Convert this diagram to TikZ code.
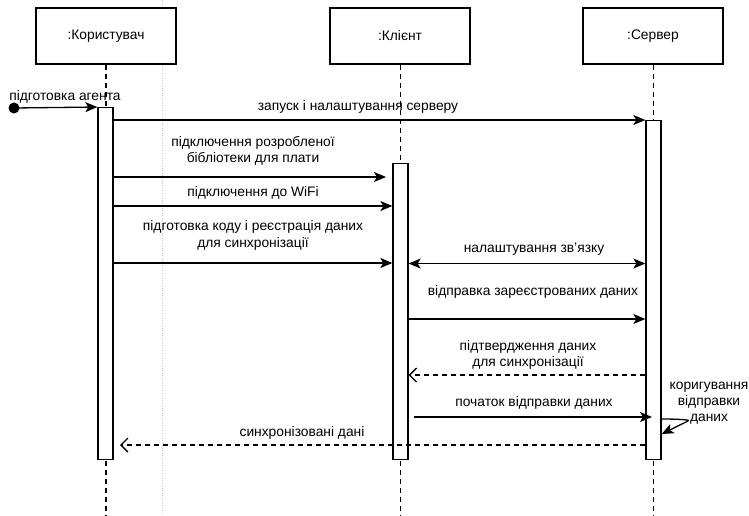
\documentclass[tikz,border=0pt]{standalone}
\usepackage{fontspec}
\setmainfont{Liberation Sans}
\usetikzlibrary{arrows.meta}
\begin{document}
\begin{tikzpicture}[x=1pt,y=-1pt,
  every node/.style={font=\fontsize{13.8}{16.3}\selectfont},
  objbox/.style={draw,line width=1.3pt,minimum width=140pt,minimum height=56pt,inner sep=0pt,fill=white},
  actbox/.style={draw,line width=1.3pt,minimum width=15pt,inner sep=0pt,anchor=north,fill=white},
  lifeline/.style={line width=1.3pt,dash pattern=on 5pt off 4pt},
  msg/.style={line width=1.3pt,-{Stealth[length=12pt,width=10pt,inset=3pt]}},
  bimsg/.style={line width=1.3pt,{Stealth[length=12pt,width=10pt,inset=3pt]}-{Stealth[length=12pt,width=10pt,inset=3pt]}},
  retmsg/.style={line width=1.3pt,dash pattern=on 5pt off 4pt,-{Straight Barb[length=7pt,width=14pt,line width=1.3pt]}},
  lbl/.style={align=center,inner sep=0pt}
]
\useasboundingbox (0,0) rectangle (749,515);
% page guide
\draw[gray!45,line width=0.8pt,dash pattern=on 1pt off 1.5pt] (162,0) -- (162,515);
% objects
\node[objbox] (user) at (106,36) {:Користувач};
\node[objbox] (client) at (400,36) {:Клієнт};
\node[objbox] (server) at (653,36) {:Сервер};
% lifelines
\coordinate (uend) at (106,515);
\coordinate (cend) at (400.5,515);
\coordinate (send) at (653.5,515);
\draw[lifeline] (user.south) -- (uend);
\draw[lifeline] (client.south -| cend) -- (cend);
\draw[lifeline] (server.south -| send) -- (send);
% activations
\node[actbox,minimum height=352pt] (ua) at (105.5,107) {};
\node[actbox,minimum height=296pt] (ca) at (400.5,163) {};
\node[actbox,minimum height=339pt] (sa) at (653.5,120) {};
% start
\fill (14,108) circle (5.5pt) coordinate (start);
\draw[msg] (start) -- (ua.north west);
\node[lbl] (l0) at (65,96.5) {підготовка агента};
% messages
\draw[msg] (ua.east |- 0,120) -- (sa.west |- 0,120);
\node[lbl] (l1) at (358,107) {запуск і налаштування серверу};
\draw[msg] (ua.east |- 0,177) -- (386,177) coordinate (m2e);
\node[lbl] (l2) at (253,151) {підключення розробленої\\бібліотеки для плати};
\draw[msg] (ua.east |- 0,206) -- (ca.west |- 0,206);
\node[lbl] (l3) at (253,192.5) {підключення до WiFi};
\draw[msg] (ua.east |- 0,263) -- (ca.west |- 0,263);
\node[lbl] (l4) at (253,235.5) {підготовка коду і реєстрація даних\\для синхронізації};
\draw[bimsg] (ca.east |- 0,263.5) -- (sa.west |- 0,263.5);
\node[lbl] (l5) at (534,249) {налаштування зв\symbol{"27}язку};
\draw[msg] (ca.east |- 0,319) -- (sa.west |- 0,319);
\node[lbl] (l6) at (533,292) {відправка зареєстрованих даних};
\draw[retmsg] (sa.west |- 0,375) -- (ca.east |- 0,375);
\node[lbl] (l7) at (528,355) {підтвердження даних\\для синхронізації};
\draw[msg] (414,417) coordinate (m8s) -- (652,417);
\node[lbl] (l8) at (534,403) {початок відправки даних};
% self message
\draw[msg] (sa.east |- 0,419) .. controls (680,419) and (692,420) .. (688,421) coordinate (loopc) -- (sa.east |- 0,434);
\node[lbl] (l9) at (709,403) {коригування\\відправки\\даних};
\draw[retmsg] (sa.west |- 0,445) -- (120,445) coordinate (m9e);
\node[lbl] (l10) at (302,433) {синхронізовані дані};
\end{tikzpicture}
\end{document}
